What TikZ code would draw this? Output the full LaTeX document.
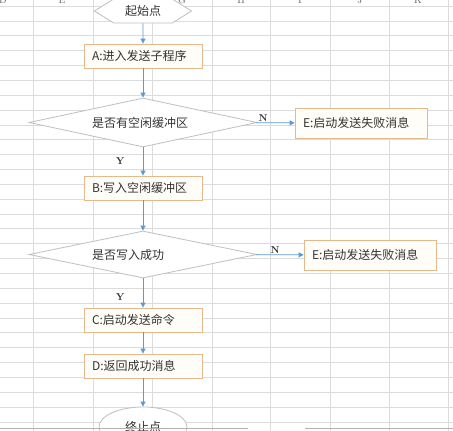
\documentclass[tikz,border=0pt]{standalone}
\usepackage{fontspec}
\newfontfamily\cjk{Noto Sans CJK SC}
\usepackage{xcolor}
\usepackage{tikz}
\usetikzlibrary{shapes, arrows.meta, positioning}
\definecolor{flowblue}{HTML}{5B9BD5}
\definecolor{boxtan}{HTML}{E6B98C}
\definecolor{boxcream}{HTML}{FFFDF7}
\definecolor{shapegray}{HTML}{BFBFBF}
\definecolor{gridgray}{HTML}{DCDCDC}
\definecolor{headgray}{HTML}{666666}
\definecolor{textdark}{HTML}{333333}
\tikzset{
  basenode/.style={draw, line width=0.8pt, inner sep=0pt, text=textdark, font=\cjk\fontsize{12}{14}\selectfont},
  stepbox/.style={basenode, draw=boxtan, fill=boxcream, minimum width=118pt, minimum height=24pt, text width=102pt, align=left},
  failbox/.style={basenode, draw=boxtan, fill=boxcream, minimum width=132pt, minimum height=30pt, text width=116pt, align=left},
  decision/.style={basenode, diamond, draw=shapegray, fill=white, aspect=4.65, minimum width=228pt, minimum height=49pt, text width=102pt, align=left},
  startnode/.style={basenode, signal, signal to=east and west, signal pointer angle=64, draw=shapegray, fill=white, minimum width=97pt, minimum height=24pt},
  endnode/.style={basenode, ellipse, draw=shapegray, fill=white, minimum width=88pt, minimum height=40pt},
  arr/.style={-{Triangle[length=5pt, width=5pt]}, line width=0.8pt, flowblue},
  yn/.style={font=\fontsize{10}{10}\selectfont\bfseries, text=textdark, inner sep=1pt},
  gridline/.style={draw=gridgray, line width=0.6pt},
  colhead/.style={font=\fontsize{10}{10}\selectfont, text=headgray}
}

\begin{document}
\begin{tikzpicture}[x=1pt, y=-1pt]
\clip (0,0) rectangle (453,431);
\fill[white] (0,0) rectangle (453,431);

% ===== SHEET GRID =====
\foreach \x in {33,93,152,212,270,330,389,448}
  \draw[gridline] (\x,0) -- (\x,431);
\foreach \k in {0,...,29}
  \draw[gridline] (0,{6+14.85*\k}) -- (453,{6+14.85*\k});
\foreach \col/\x in {D/3,E/62,F/122,G/182,H/241,I/300,J/360,K/418}
  \node[colhead] (h\col) at (\x,0) {\col};

% ===== MAIN SPINE =====
\node[startnode] (start) at (143,11)    {起始点};
\node[stepbox]   (A)     at (143,56)    {A:进入发送子程序};
\node[decision]  (Q1)    at (143,122.5) {是否有空闲缓冲区};
\node[stepbox]   (B)     at (143,188)   {B:写入空闲缓冲区};
\node[decision, minimum height=47pt] (Q2) at (143,254.5) {是否写入成功};
\node[stepbox]   (C)     at (143,320)   {C:启动发送命令};
\node[stepbox]   (D)     at (143,366)   {D:返回成功消息};
\node[endnode]   (stop)  at (143,427)   {终止点};

% ===== FAIL BRANCHES =====
\node[failbox] (E1) at (361,123) {E:启动发送失败消息};
\node[failbox] (E2) at (370,255) {E:启动发送失败消息};

% ===== MAIN FLOW ARROWS =====
\draw[arr] (start) -- (A);
\draw[arr] (A)  -- (Q1);
\draw[arr] (Q1) -- node[yn, pos=0.5, left=17pt] {Y} (B);
\draw[arr] (B)  -- (Q2);
\draw[arr] (Q2) -- node[yn, pos=0.63, left=17pt] {Y} (C);
\draw[arr] (C)  -- (D);
\draw[arr] (D)  -- (stop);

% ===== N ARROWS =====
\draw[arr] (Q1) -- node[yn, pos=0.18, above] {N} (E1);
\draw[arr] (Q2) -- node[yn, pos=0.4, above] {N} (E2);

% ===== BOTTOM EDGE =====
\draw[draw=gray!60, line width=0.6pt] (0,428) -- (248,428) (305,428) -- (453,428);

\end{tikzpicture}
\end{document}
